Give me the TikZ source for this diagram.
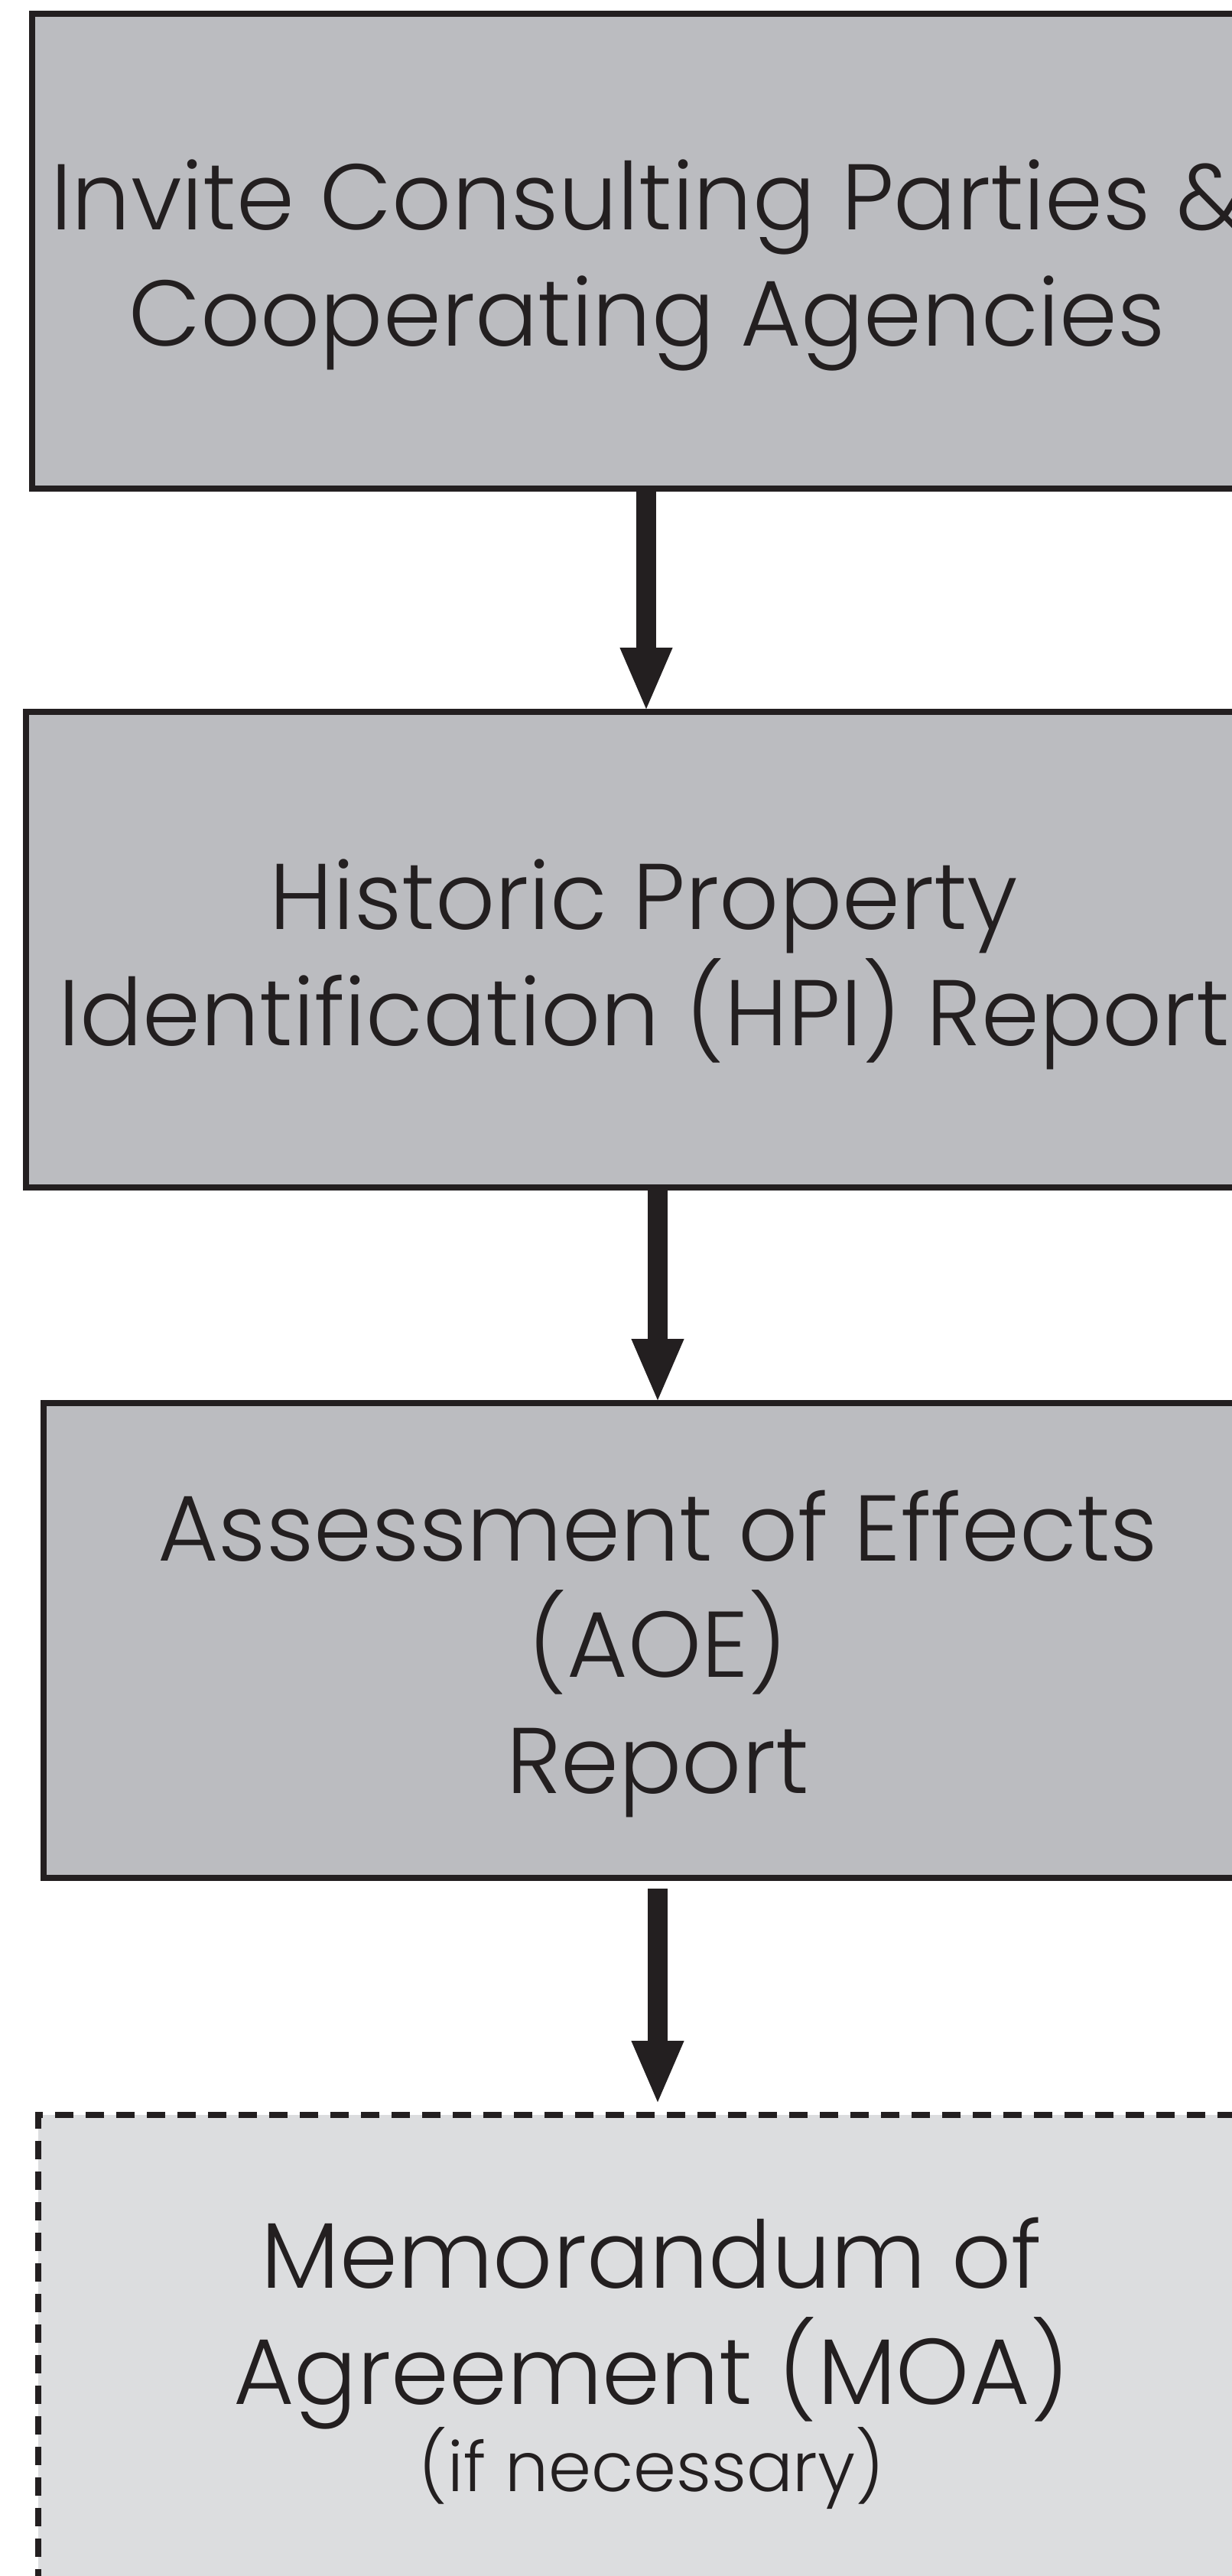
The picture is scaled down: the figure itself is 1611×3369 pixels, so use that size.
\documentclass[tikz,border=0pt]{standalone}
\usepackage{fontspec}
\IfFontExistsTF{Poppins Light}{\setmainfont{Poppins Light}}{\setmainfont{Poppins}}
\usetikzlibrary{arrows.meta}
\definecolor{ink}{HTML}{231F20}
\definecolor{boxgray}{HTML}{BBBCC0}
\definecolor{optgray}{HTML}{DCDDDF}
\begin{document}
\begin{tikzpicture}[x=0.5pt,y=-0.5pt,
  stepbox/.style={draw=ink, line width=4pt, fill=boxgray, rectangle, inner sep=0pt, outer sep=0pt},
  optbox/.style={stepbox, fill=optgray, dash pattern=on 12pt off 8pt},
  txt/.style={anchor=base, inner sep=0pt, text=ink, font=\fontsize{61}{76}\selectfont},
  smalltxt/.style={txt, font=\fontsize{45}{56}\selectfont},
  flow/.style={draw=ink, line width=13pt, -{Triangle[width=31pt,length=42pt]}}]
\useasboundingbox (0,0) rectangle (1611,3369);
\clip (0,0) rectangle (1611,3369);
\fill[white] (0,0) rectangle (1611,3369);
% boxes
\node[stepbox, minimum width=804pt, minimum height=310.5pt] (b1) at (846,328.5) {};
\node[stepbox, minimum width=816pt, minimum height=311pt] (b2) at (850,1242) {};
\node[stepbox, minimum width=803pt, minimum height=310.5pt] (b3) at (860,2145.5) {};
\node[optbox, minimum width=803pt, minimum height=377pt] (b4) at (853,3143) {};
% texts
\node[txt] (t1a) at (846,300) {Invite Consulting Parties \&};
\node[txt] (t1b) at (846,452) {Cooperating Agencies};
\node[txt] (t2a) at (842,1215) {Historic Property};
\node[txt] (t2b) at (842,1367) {Identification (HPI) Report};
\node[txt] (t3a) at (860,2041) {Assessment of Effects};
\node[txt] (t3b) at (860,2193) {(AOE)};
\node[txt] (t3c) at (860,2345) {Report};
\node[txt] (t4a) at (852,2992) {Memorandum of};
\node[txt] (t4b) at (852,3144) {Agreement (MOA)};
\node[smalltxt] (t4c) at (852,3258) {(if necessary)};
% arrow axes
\coordinate (ax1) at (845,0);
\coordinate (ax2) at (860,0);
% arrows
\draw[flow] (b1.south -| ax1) -- (b2.north -| ax1);
\draw[flow] (b2.south -| ax2) -- (b3.north -| ax2);
\draw[flow, shorten <=7pt, shorten >=6.5pt] (b3.south -| ax2) -- (b4.north -| ax2);
\end{tikzpicture}
\end{document}
